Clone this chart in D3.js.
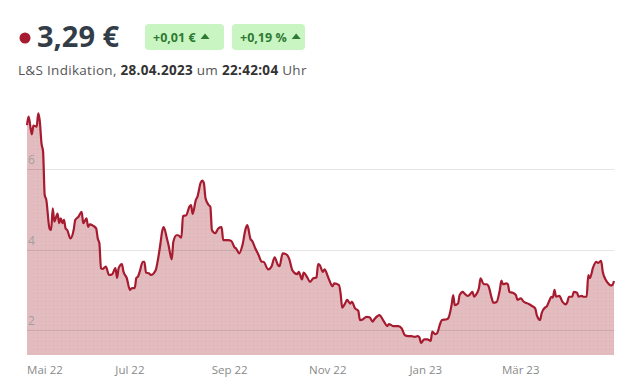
<!DOCTYPE html>
<html>
<head>
<meta charset="utf-8">
<script src="https://cdn.jsdelivr.net/npm/d3@7"></script>
<style>
  body { margin: 0; background: #fff; font-family: 'Open Sans', sans-serif; }
</style>
</head>
<body>
<svg id="chart" width="629" height="384"></svg>
<script>
// Header values
const lastPrice = '3,29 €';
const changeAbs = '+0,01 €';
const changePct = '+0,19 %';
const quoteDate = '28.04.2023';
const quoteTime = '22:42:04';

// Price series
const series = [
  ['2022-04-28', 7.10], ['2022-04-29', 7.31], ['2022-05-01', 6.87], ['2022-05-02', 7.09],
  ['2022-05-04', 7.06], ['2022-05-05', 7.39], ['2022-05-06', 7.18], ['2022-05-07', 6.65],
  ['2022-05-08', 6.44], ['2022-05-09', 5.36], ['2022-05-10', 5.24], ['2022-05-12', 4.53],
  ['2022-05-13', 4.49], ['2022-05-14', 5.03], ['2022-05-15', 4.70], ['2022-05-17', 4.90],
  ['2022-05-18', 4.66], ['2022-05-19', 4.78], ['2022-05-20', 4.66], ['2022-05-21', 4.74],
  ['2022-05-22', 4.53], ['2022-05-23', 4.49], ['2022-05-25', 4.28], ['2022-05-27', 4.49],
  ['2022-05-28', 4.74], ['2022-05-30', 4.82], ['2022-06-01', 4.94], ['2022-06-02', 4.66],
  ['2022-06-04', 4.78], ['2022-06-05', 4.57], ['2022-06-06', 4.63], ['2022-06-08', 4.60],
  ['2022-06-10', 4.53], ['2022-06-11', 4.28], ['2022-06-12', 4.16], ['2022-06-13', 3.54],
  ['2022-06-14', 3.52], ['2022-06-16', 3.58], ['2022-06-18', 3.37], ['2022-06-20', 3.39],
  ['2022-06-22', 3.54], ['2022-06-23', 3.30], ['2022-06-24', 3.54], ['2022-06-26', 3.64],
  ['2022-06-27', 3.45], ['2022-06-29', 3.30], ['2022-07-01', 3.00], ['2022-07-02', 3.04],
  ['2022-07-04', 3.05], ['2022-07-05', 3.30], ['2022-07-06', 3.33], ['2022-07-07', 3.44],
  ['2022-07-09', 3.70], ['2022-07-10', 3.70], ['2022-07-11', 3.43], ['2022-07-13', 3.41],
  ['2022-07-14', 3.37], ['2022-07-17', 3.49], ['2022-07-18', 3.66], ['2022-07-20', 4.16],
  ['2022-07-21', 4.45], ['2022-07-22', 4.56], ['2022-07-24', 4.28], ['2022-07-25', 4.12],
  ['2022-07-27', 3.76], ['2022-07-28', 4.20], ['2022-07-30', 4.36], ['2022-07-31', 4.36],
  ['2022-08-02', 4.30], ['2022-08-03', 4.84], ['2022-08-05', 4.86], ['2022-08-07', 5.07],
  ['2022-08-08', 5.11], ['2022-08-09', 4.89], ['2022-08-11', 5.24], ['2022-08-12', 5.32],
  ['2022-08-14', 5.67], ['2022-08-15', 5.72], ['2022-08-16', 5.65], ['2022-08-17', 5.28],
  ['2022-08-19', 5.11], ['2022-08-20', 5.07], ['2022-08-21', 4.49], ['2022-08-23', 4.41],
  ['2022-08-25', 4.53], ['2022-08-27', 4.56], ['2022-08-28', 4.24], ['2022-08-31', 4.24],
  ['2022-09-02', 4.22], ['2022-09-04', 4.06], ['2022-09-05', 4.03], ['2022-09-07', 3.91],
  ['2022-09-09', 4.12], ['2022-09-11', 4.53], ['2022-09-12', 4.61], ['2022-09-14', 4.26],
  ['2022-09-15', 4.22], ['2022-09-17', 4.03], ['2022-09-19', 3.87], ['2022-09-21', 3.70],
  ['2022-09-22', 3.70], ['2022-09-25', 3.51], ['2022-09-27', 3.58], ['2022-09-29', 3.81],
  ['2022-10-01', 3.62], ['2022-10-02', 3.59], ['2022-10-04', 3.91], ['2022-10-06', 3.89],
  ['2022-10-08', 3.78], ['2022-10-10', 3.49], ['2022-10-13', 3.39], ['2022-10-14', 3.45],
  ['2022-10-16', 3.26], ['2022-10-17', 3.43], ['2022-10-19', 3.33], ['2022-10-21', 3.20],
  ['2022-10-23', 3.29], ['2022-10-25', 3.31], ['2022-10-26', 3.64], ['2022-10-27', 3.62],
  ['2022-10-29', 3.45], ['2022-10-30', 3.51], ['2022-11-01', 3.34], ['2022-11-02', 3.24],
  ['2022-11-04', 3.09], ['2022-11-05', 3.16], ['2022-11-08', 3.12], ['2022-11-09', 2.91],
  ['2022-11-10', 2.56], ['2022-11-12', 2.68], ['2022-11-13', 2.75], ['2022-11-15', 2.66],
  ['2022-11-16', 2.70], ['2022-11-18', 2.54], ['2022-11-20', 2.48], ['2022-11-21', 2.25],
  ['2022-11-23', 2.27], ['2022-11-25', 2.33], ['2022-11-27', 2.32], ['2022-11-29', 2.21],
  ['2022-11-30', 2.27], ['2022-12-02', 2.35], ['2022-12-03', 2.37], ['2022-12-06', 2.21],
  ['2022-12-08', 2.10], ['2022-12-09', 2.15], ['2022-12-12', 2.10], ['2022-12-15', 2.10],
  ['2022-12-17', 2.04], ['2022-12-19', 1.87], ['2022-12-21', 1.85], ['2022-12-23', 1.85],
  ['2022-12-25', 1.83], ['2022-12-27', 1.85], ['2022-12-28', 1.82], ['2022-12-29', 1.68],
  ['2022-12-31', 1.77], ['2023-01-02', 1.77], ['2023-01-04', 1.73], ['2023-01-05', 1.96],
  ['2023-01-07', 1.90], ['2023-01-08', 1.92], ['2023-01-10', 2.17], ['2023-01-11', 2.25],
  ['2023-01-14', 2.27], ['2023-01-15', 2.30], ['2023-01-17', 2.62], ['2023-01-18', 2.87],
  ['2023-01-19', 2.62], ['2023-01-21', 2.66], ['2023-01-22', 2.87], ['2023-01-24', 2.95],
  ['2023-01-25', 2.91], ['2023-01-27', 2.85], ['2023-01-28', 2.87], ['2023-01-30', 2.95],
  ['2023-01-31', 2.83], ['2023-02-01', 2.87], ['2023-02-03', 3.04], ['2023-02-04', 3.29],
  ['2023-02-06', 3.14], ['2023-02-08', 3.14], ['2023-02-09', 3.09], ['2023-02-11', 2.79],
  ['2023-02-12', 2.68], ['2023-02-14', 2.70], ['2023-02-16', 3.00], ['2023-02-17', 3.23],
  ['2023-02-18', 3.14], ['2023-02-20', 3.16], ['2023-02-21', 3.14], ['2023-02-22', 2.95],
  ['2023-02-24', 2.93], ['2023-02-26', 2.87], ['2023-02-27', 2.75], ['2023-03-01', 2.79],
  ['2023-03-03', 2.70], ['2023-03-04', 2.68], ['2023-03-06', 2.65], ['2023-03-08', 2.60],
  ['2023-03-10', 2.54], ['2023-03-11', 2.37], ['2023-03-13', 2.25], ['2023-03-14', 2.42],
  ['2023-03-16', 2.56], ['2023-03-17', 2.58], ['2023-03-19', 2.75], ['2023-03-20', 2.83],
  ['2023-03-21', 2.81], ['2023-03-22', 3.00], ['2023-03-23', 2.83], ['2023-03-25', 2.85],
  ['2023-03-27', 2.70], ['2023-03-29', 2.64], ['2023-03-30', 2.70], ['2023-03-31', 2.83],
  ['2023-04-02', 2.83], ['2023-04-03', 2.95], ['2023-04-05', 2.93], ['2023-04-06', 2.83],
  ['2023-04-08', 2.85], ['2023-04-09', 2.83], ['2023-04-11', 2.83], ['2023-04-12', 3.37],
  ['2023-04-13', 3.29], ['2023-04-15', 3.56], ['2023-04-17', 3.70], ['2023-04-18', 3.67],
  ['2023-04-20', 3.72], ['2023-04-21', 3.45], ['2023-04-23', 3.24], ['2023-04-24', 3.18],
  ['2023-04-26', 3.11], ['2023-04-27', 3.12], ['2023-04-28', 3.22],
];

const yTicks = [2, 4, 6];
const xTickDates = ['2022-05-01', '2022-07-01', '2022-09-01', '2022-11-01', '2023-01-01', '2023-03-01'];
const xTickLabels = ['Mai 22', 'Jul 22', 'Sep 22', 'Nov 22', 'Jan 23', 'Mär 23'];

const C = {
  left: 27, right: 614, top: 100, bottom: 355,
  yMin: 1.38, yMax: 7.725,
  line: '#a61b2f',
  area: '#e3bcc0',
  text: '#333d47',
};

const parse = d3.timeParse('%Y-%m-%d');
const data = series.map(([d, v]) => ({ date: parse(d), value: v }));

const svg = d3.select('#chart');

// ---- header
svg.append('circle').attr('cx', 25).attr('cy', 38).attr('r', 5.5).attr('fill', C.line);
svg.append('text')
  .attr('x', 37).attr('y', 47)
  .attr('font-size', 29).attr('font-weight', 700).attr('fill', C.text)
  .text(lastPrice);

function badge(x, w, label) {
  const g = svg.append('g').attr('transform', `translate(${x},24)`);
  g.append('rect').attr('width', w).attr('height', 26).attr('rx', 4).attr('fill', '#c9f5c2');
  const t = g.append('text')
    .attr('x', 8).attr('y', 17.5)
    .attr('font-size', 12.5).attr('font-weight', 700).attr('fill', '#2f7a33')
    .text(label);
  const end = 8 + t.node().getComputedTextLength() + 5;
  g.append('path')
    .attr('d', `M${end},15 l4.5,-5.5 l4.5,5.5 z`)
    .attr('fill', '#2f7a33');
}
badge(145, 79, changeAbs);
badge(232, 73, changePct);

const sub = svg.append('text')
  .attr('x', 18).attr('y', 75)
  .attr('font-size', 13.5).attr('fill', '#555')
  .attr('letter-spacing', 0.3);
sub.append('tspan').text('L&S Indikation, ');
sub.append('tspan').attr('font-weight', 700).attr('fill', '#333').text(quoteDate);
sub.append('tspan').text(' um ');
sub.append('tspan').attr('font-weight', 700).attr('fill', '#333').text(quoteTime);
sub.append('tspan').text(' Uhr');

// ---- scales
const x = d3.scaleTime()
  .domain([parse('2022-04-28'), parse('2023-04-28')])
  .range([C.left, C.right]);
const y = d3.scaleLinear()
  .domain([C.yMin, C.yMax])
  .range([C.bottom, C.top]);

// dotted pattern for the area
const defs = svg.append('defs');
const pat = defs.append('pattern')
  .attr('id', 'dots').attr('patternUnits', 'userSpaceOnUse')
  .attr('width', 4).attr('height', 4);
pat.append('rect').attr('width', 4).attr('height', 4).attr('fill', C.area);
pat.append('rect').attr('x', 1).attr('y', 1).attr('width', 1).attr('height', 1).attr('fill', '#dcb1b6');

const area = d3.area()
  .x(d => x(d.date))
  .y0(C.bottom)
  .y1(d => y(d.value))
  .curve(d3.curveMonotoneX);

svg.append('path').datum(data).attr('d', area).attr('fill', 'url(#dots)');

// gridlines drawn over the area, translucent
svg.append('g')
  .selectAll('line')
  .data(yTicks)
  .join('line')
  .attr('x1', C.left).attr('x2', C.right)
  .attr('y1', d => Math.round(y(d)) + 0.5).attr('y2', d => Math.round(y(d)) + 0.5)
  .attr('stroke', '#000').attr('stroke-opacity', 0.1);

svg.append('g')
  .selectAll('text')
  .data(yTicks)
  .join('text')
  .attr('x', C.left + 1).attr('y', d => y(d) - 5)
  .attr('font-size', 12).attr('fill', '#a0a0a0')
  .text(d => d);

const line = d3.line()
  .x(d => x(d.date))
  .y(d => y(d.value))
  .curve(d3.curveMonotoneX);

svg.append('path').datum(data)
  .attr('d', line)
  .attr('fill', 'none')
  .attr('stroke', C.line)
  .attr('stroke-width', 2.2)
  .attr('stroke-linejoin', 'round');

// ---- x axis labels
svg.append('g')
  .selectAll('text')
  .data(xTickDates)
  .join('text')
  .attr('x', d => Math.max(x(parse(d)), C.left + 18))
  .attr('y', 374)
  .attr('text-anchor', 'middle')
  .attr('font-size', 11.5).attr('fill', '#8a8a8a')
  .text((d, i) => xTickLabels[i]);
</script>
</body>
</html>
